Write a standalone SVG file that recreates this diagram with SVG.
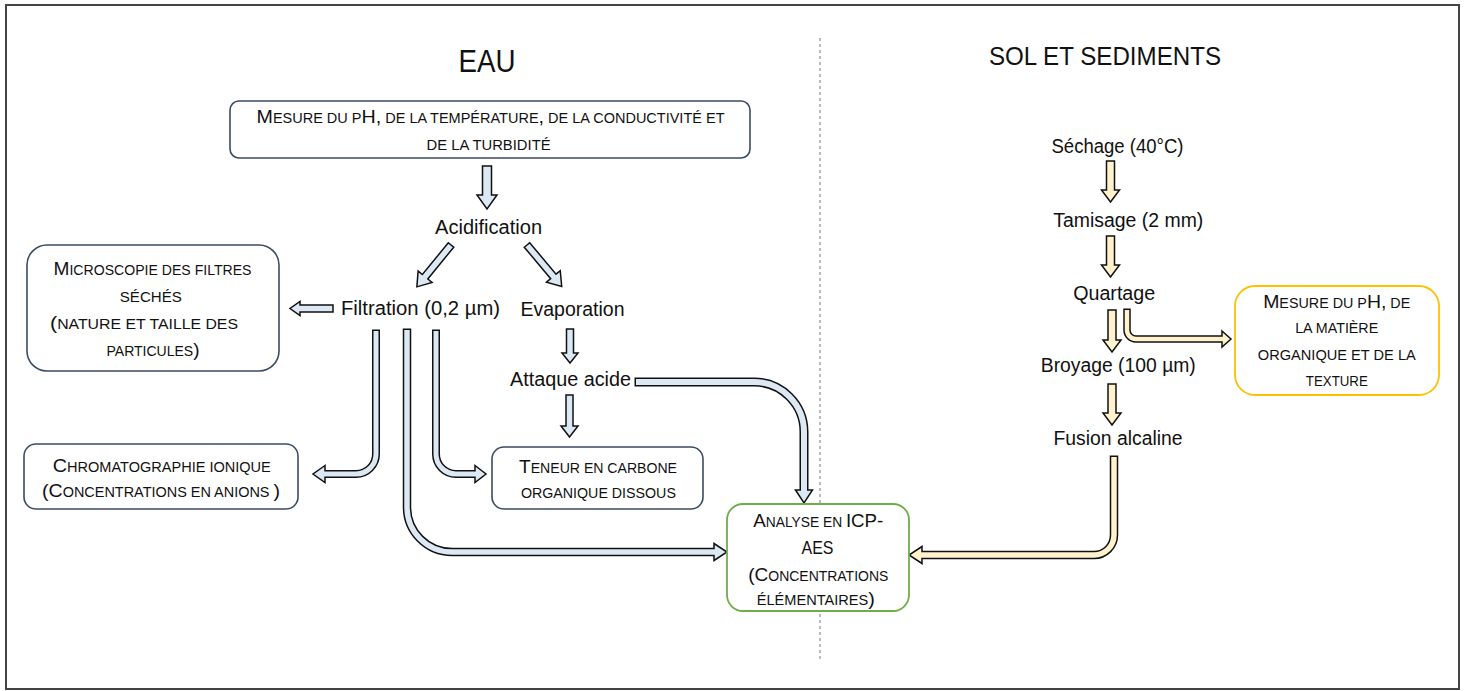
<svg xmlns="http://www.w3.org/2000/svg" width="1468" height="691" viewBox="0 0 1468 691">
<style>
.t{font-family:'Liberation Sans',Arial,sans-serif;font-size:19.5px;fill:#111;text-anchor:middle}
.sc{font-family:'Liberation Sans',Arial,sans-serif;font-size:14px;fill:#111;text-anchor:middle}
.u{font-size:19px}
.ti{font-family:'Liberation Sans',Arial,sans-serif;fill:#111;text-anchor:middle}
.box{fill:#fff;stroke:#3b4b63;stroke-width:1.6}
.ab{fill:#dce9f5;stroke:#111;stroke-width:1.5;stroke-linejoin:miter}
.ay{fill:#fff2cc;stroke:#111;stroke-width:1.5;stroke-linejoin:miter}
.ol{fill:none;stroke:#111}
.fb{fill:none;stroke:#dce9f5}
.fy{fill:none;stroke:#fff2cc}
</style>
<defs>
<polygon id="diag" points="0,-3.5 41,-3.5 41,-9 54,0 41,9 41,3.5 0,3.5"/>
</defs>
<rect x="0" y="0" width="1468" height="691" fill="#fff"/>
<rect x="6" y="5" width="1453" height="684" fill="none" stroke="#444" stroke-width="2"/>
<line x1="820" y1="38" x2="820" y2="662" stroke="#777" stroke-width="1" stroke-dasharray="3,3"/>

<g id="title-eau"><text class="ti" x="487" y="72" font-size="32" textLength="57" lengthAdjust="spacingAndGlyphs">EAU</text></g>
<g id="title-sol"><text class="ti" x="1105" y="65" font-size="26" textLength="232" lengthAdjust="spacingAndGlyphs">SOL ET SEDIMENTS</text></g>

<g id="connectors">
  <polygon class="ab" points="482.5,166 491.5,166 491.5,195 497,195 487,209 477,195 482.5,195"/>
  <use href="#diag" class="ab" transform="translate(451,245) rotate(129.2)"/>
  <use href="#diag" class="ab" transform="translate(527,245) rotate(50)"/>
  <polygon class="ab" points="333,305 300,305 300,301.5 290,308.5 300,315.5 300,312 333,312"/>
  <polygon class="ab" points="566.5,329 573.5,329 573.5,353 578,353 570,363 562,353 566.5,353"/>
  <polygon class="ab" points="566,395 573,395 573,426 578,426 569.5,437 561,426 566,426"/>
  <path class="ol" stroke-width="8" d="M376,329.5 V454 A20,20 0 0 1 356,474 H325"/>
  <polygon class="ab" points="325,465.5 313,474 325,482.5"/>
  <path class="fb" stroke-width="5" d="M376,331 V454 A20,20 0 0 1 356,474 H323"/>
  <path class="ol" stroke-width="8" d="M436,329.5 V454 A20,20 0 0 0 456,474 H475"/>
  <polygon class="ab" points="475,465.5 486,474 475,482.5"/>
  <path class="fb" stroke-width="5" d="M436,331 V454 A20,20 0 0 0 456,474 H477"/>
  <path class="ol" stroke-width="8.5" d="M407,328.5 V507 A45,45 0 0 0 452,552 H714"/>
  <polygon class="ab" points="714,543.5 727,552 714,560.5"/>
  <path class="fb" stroke-width="5.5" d="M407,330 V507 A45,45 0 0 0 452,552 H716"/>
  <path class="ol" stroke-width="9" d="M634.5,382 H754 A50,50 0 0 1 804,432 V490"/>
  <polygon class="ab" points="795.5,490 804,503 812.5,490"/>
  <path class="fb" stroke-width="6" d="M636,382 H754 A50,50 0 0 1 804,432 V492"/>
  <polygon class="ay" points="1106.5,161 1114.5,161 1114.5,190 1119.5,190 1110.5,202 1101.5,190 1106.5,190"/>
  <polygon class="ay" points="1106.5,236 1114.5,236 1114.5,265 1119.5,265 1110.5,277 1101.5,265 1106.5,265"/>
  <polygon class="ay" points="1108,310 1116,310 1116,340 1121,340 1112,352 1103,340 1108,340"/>
  <polygon class="ay" points="1108,384 1116,384 1116,413 1121,413 1112,425 1103,413 1108,413"/>
  <path class="ol" stroke-width="7.5" d="M1127,308.5 V330 A9,9 0 0 0 1136,339 H1222"/>
  <polygon class="ay" points="1222,331 1231,339 1222,347"/>
  <path class="fy" stroke-width="4.5" d="M1127,310 V330 A9,9 0 0 0 1136,339 H1224"/>
  <path class="ol" stroke-width="8.5" d="M1114,455.5 V535 A20,20 0 0 1 1094,555 H922"/>
  <polygon class="ay" points="922,546.5 909,555 922,563.5"/>
  <path class="fy" stroke-width="5.5" d="M1114,457 V535 A20,20 0 0 1 1094,555 H920"/>
</g>

<g id="n-mesure-eau">
  <rect class="box" x="230" y="101" width="520" height="57" rx="9"/>
  <text class="sc" x="490.5" y="123" textLength="468" lengthAdjust="spacingAndGlyphs"><tspan class="u">M</tspan>ESURE DU P<tspan class="u">H,</tspan> DE LA TEMPÉRATURE<tspan class="u">,</tspan> DE LA CONDUCTIVITÉ ET</text>
  <text class="sc" x="488.6" y="150" textLength="124" lengthAdjust="spacingAndGlyphs">DE LA TURBIDITÉ</text>
</g>
<g id="n-acidification"><text class="t" x="488.6" y="234" textLength="107" lengthAdjust="spacingAndGlyphs">Acidification</text></g>
<g id="n-filtration"><text class="t" x="420.5" y="315" textLength="159" lengthAdjust="spacingAndGlyphs">Filtration (0,2 µm)</text></g>
<g id="n-evaporation"><text class="t" x="572.5" y="316" textLength="104" lengthAdjust="spacingAndGlyphs">Evaporation</text></g>
<g id="n-attaque"><text class="t" x="570.5" y="386" textLength="121" lengthAdjust="spacingAndGlyphs">Attaque acide</text></g>
<g id="n-microscopie">
  <rect class="box" x="27" y="245" width="252" height="126" rx="20"/>
  <text class="sc" x="152.5" y="275" textLength="198" lengthAdjust="spacingAndGlyphs"><tspan class="u">M</tspan>ICROSCOPIE DES FILTRES</text>
  <text class="sc" x="150.8" y="302" textLength="62" lengthAdjust="spacingAndGlyphs">SÉCHÉS</text>
  <text class="sc" x="144" y="329" textLength="188" lengthAdjust="spacingAndGlyphs"><tspan class="u">(</tspan>NATURE ET TAILLE DES</text>
  <text class="sc" x="153" y="356" textLength="93" lengthAdjust="spacingAndGlyphs">PARTICULES<tspan class="u">)</tspan></text>
</g>
<g id="n-chromatographie">
  <rect class="box" x="24" y="444" width="274" height="65" rx="12"/>
  <text class="sc" x="161.8" y="472" textLength="218" lengthAdjust="spacingAndGlyphs"><tspan class="u">C</tspan>HROMATOGRAPHIE IONIQUE</text>
  <text class="sc" x="161" y="497" textLength="238" lengthAdjust="spacingAndGlyphs"><tspan class="u">(C</tspan>ONCENTRATIONS EN ANIONS <tspan class="u">)</tspan></text>
</g>
<g id="n-teneur">
  <rect class="box" x="492" y="447" width="211" height="62" rx="12"/>
  <text class="sc" x="598" y="473" textLength="158" lengthAdjust="spacingAndGlyphs"><tspan class="u">T</tspan>ENEUR EN CARBONE</text>
  <text class="sc" x="598.4" y="498" textLength="155" lengthAdjust="spacingAndGlyphs">ORGANIQUE DISSOUS</text>
</g>
<g id="n-icp">
  <rect x="727" y="504" width="182" height="107" rx="16" fill="#fff" stroke="#70ad47" stroke-width="1.8"/>
  <text class="sc" x="818.3" y="527" textLength="130" lengthAdjust="spacingAndGlyphs"><tspan class="u">A</tspan>NALYSE EN <tspan class="u">ICP-</tspan></text>
  <text class="sc" x="817.5" y="554" textLength="32" lengthAdjust="spacingAndGlyphs"><tspan class="u">AES</tspan></text>
  <text class="sc" x="818.3" y="581" textLength="140" lengthAdjust="spacingAndGlyphs"><tspan class="u">(C</tspan>ONCENTRATIONS</text>
  <text class="sc" x="815.8" y="605" textLength="118" lengthAdjust="spacingAndGlyphs">ÉLÉMENTAIRES<tspan class="u">)</tspan></text>
</g>
<g id="n-sechage"><text class="t" x="1117.5" y="153" textLength="132" lengthAdjust="spacingAndGlyphs">Séchage (40°C)</text></g>
<g id="n-tamisage"><text class="t" x="1128.3" y="227" textLength="150" lengthAdjust="spacingAndGlyphs">Tamisage (2 mm)</text></g>
<g id="n-quartage"><text class="t" x="1114.2" y="300" textLength="82" lengthAdjust="spacingAndGlyphs">Quartage</text></g>
<g id="n-broyage"><text class="t" x="1118.3" y="372" textLength="155" lengthAdjust="spacingAndGlyphs">Broyage (100 µm)</text></g>
<g id="n-fusion"><text class="t" x="1118" y="445" textLength="129" lengthAdjust="spacingAndGlyphs">Fusion alcaline</text></g>
<g id="n-mesure-sol">
  <rect x="1235" y="286" width="204" height="109" rx="20" fill="#fff" stroke="#ffc000" stroke-width="1.8"/>
  <text class="sc" x="1336.7" y="308" textLength="147" lengthAdjust="spacingAndGlyphs"><tspan class="u">M</tspan>ESURE DU P<tspan class="u">H,</tspan> DE</text>
  <text class="sc" x="1336.7" y="333" textLength="83" lengthAdjust="spacingAndGlyphs">LA MATIÈRE</text>
  <text class="sc" x="1336.8" y="360" textLength="158" lengthAdjust="spacingAndGlyphs">ORGANIQUE ET DE LA</text>
  <text class="sc" x="1336.8" y="386" textLength="62" lengthAdjust="spacingAndGlyphs">TEXTURE</text>
</g>
</svg>
